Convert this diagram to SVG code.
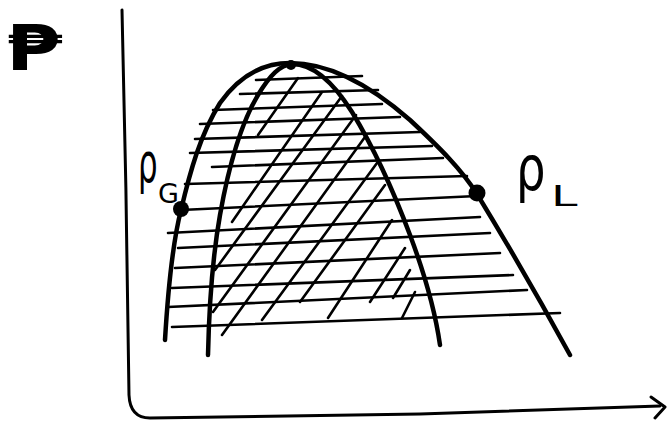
<svg xmlns="http://www.w3.org/2000/svg" width="667" height="424" viewBox="0 0 667 424">
<style>
.curve{fill:none;stroke:#000;stroke-width:4.5;stroke-linecap:round;stroke-linejoin:round}
.axis{fill:none;stroke:#000;stroke-width:3;stroke-linecap:round;stroke-linejoin:round}
.hatch line{stroke:#000;stroke-width:2.6;stroke-linecap:round}
.dot{fill:#000}
.lbl{font-family:"DejaVu Sans","Liberation Sans",sans-serif;fill:#000}
</style>
<rect width="667" height="424" fill="#fff"/>
<g id="axes">
<path class="axis" d="M122,10 C125,120 128,300 129,395 Q130,418 150,418 L420,414 L660,406"/>
<path class="axis" d="M651,397 L665,407 L655,418"/>
<text class="lbl" transform="translate(6,70) scale(1.3,1)" font-size="62" font-weight="bold">₱</text>
</g>
<g id="horizontal-hatch" class="hatch">
<line x1="256" y1="80" x2="362" y2="76"/>
<line x1="240" y1="94" x2="378" y2="90"/>
<line x1="213" y1="110" x2="382" y2="104"/>
<line x1="200" y1="124" x2="400" y2="117"/>
<line x1="195" y1="139" x2="420" y2="132"/>
<line x1="190" y1="153" x2="432" y2="146"/>
<line x1="212" y1="167" x2="443" y2="158"/>
<line x1="185" y1="184" x2="467" y2="176"/>
<line x1="181" y1="210" x2="477" y2="196"/>
<line x1="168" y1="233" x2="480" y2="217"/>
<line x1="178" y1="248" x2="490" y2="233"/>
<line x1="175" y1="268" x2="500" y2="253"/>
<line x1="172" y1="288" x2="513" y2="275"/>
<line x1="168" y1="307" x2="527" y2="290"/>
<line x1="172" y1="327" x2="560" y2="313"/>
</g>
<g id="diagonal-hatch" class="hatch">
<line x1="258" y1="135" x2="298" y2="78"/>
<line x1="232" y1="222" x2="322" y2="92"/>
<line x1="215" y1="270" x2="342" y2="96"/>
<line x1="213" y1="312" x2="356" y2="115"/>
<line x1="222" y1="335" x2="365" y2="137"/>
<line x1="262" y1="320" x2="377" y2="163"/>
<line x1="300" y1="302" x2="385" y2="185"/>
<line x1="328" y1="318" x2="392" y2="220"/>
<line x1="370" y1="302" x2="405" y2="248"/>
<line x1="393" y1="298" x2="410" y2="270"/>
<line x1="402" y1="318" x2="415" y2="292"/>
</g>
<g id="outer-curve">
<path class="curve" d="M165,340 C168,290 172,245 181,210 C190,172 200,135 220,103 C240,75 265,63 290,63 C330,63 370,85 410,120 C440,148 462,170 477,194 C505,240 540,300 570,355"/>
</g>
<g id="inner-curve">
<path class="curve" d="M208,355 C209,310 212,260 220,215 C228,170 240,125 258,95 C270,75 280,65 292,64 C315,64 335,85 352,112 C375,150 395,195 410,235 C425,275 435,310 440,345"/>
</g>
<g id="node-peak"><circle class="dot" cx="291" cy="65" r="5"/></g>
<g id="node-rhoG">
<circle class="dot" cx="181" cy="209" r="8"/>
<text class="lbl" transform="translate(138,182) scale(0.55,1)" font-size="56">ρ</text>
<text class="lbl" x="158" y="203" font-size="27">G</text>
</g>
<g id="node-rhoL">
<circle class="dot" cx="477" cy="193" r="8.5"/>
<text class="lbl" transform="translate(516,190) scale(0.75,1)" font-size="62">ρ</text>
<text class="lbl" transform="translate(551,206) scale(1.7,1)" font-size="28">L</text>
</g>
</svg>
